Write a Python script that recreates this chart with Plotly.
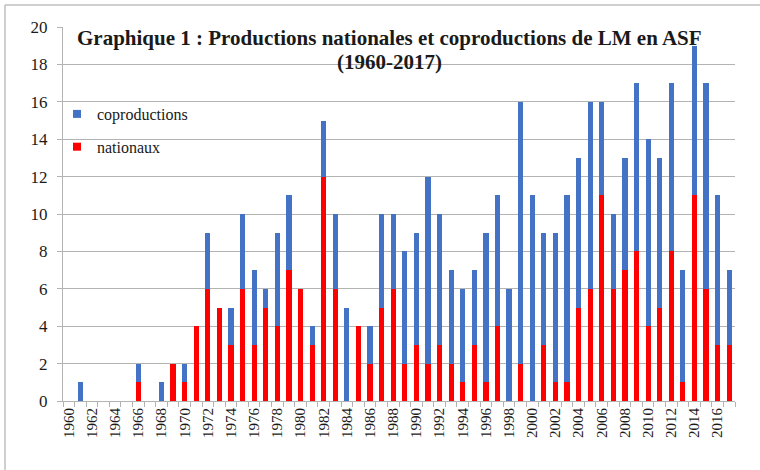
import plotly.graph_objects as go

years = list(range(1960, 2018))
totals = [0, 1, 0, 0, 0, 0, 2, 0, 1, 2, 2, 4, 9, 5, 5, 10, 7, 6, 9, 11,
          6, 4, 15, 10, 5, 4, 4, 10, 10, 8, 9, 12, 10, 7, 6, 7, 9, 11, 6, 16,
          11, 9, 9, 11, 13, 16, 16, 10, 13, 17, 14, 13, 17, 7, 19, 17, 11, 7]
nationaux = [0, 0, 0, 0, 0, 0, 1, 0, 0, 2, 1, 4, 6, 5, 3, 6, 3, 5, 4, 7,
             6, 3, 12, 6, 0, 4, 2, 5, 6, 2, 3, 2, 3, 2, 1, 3, 1, 4, 0, 2,
             0, 3, 1, 1, 5, 6, 11, 6, 7, 8, 4, 5, 8, 1, 11, 6, 3, 3]
coproductions = [t - n for t, n in zip(totals, nationaux)]
tick_years = list(range(1960, 2017, 2))
y_ticks = list(range(0, 21, 2))
title_lines = ["Graphique 1 : Productions nationales et coproductions de LM en ASF",
               "(1960-2017)"]

BLUE = "#4472C4"
RED = "#FF0000"
GRID = "#B3B3B3"
TXT = "#1a1a1a"
FONT = "'Liberation Serif', 'Times New Roman', 'DejaVu Serif', serif"

W, H = 760, 470
L, R, T, B = 63, 25, 27, 69
pw, ph = W - L - R, H - T - B

fig = go.Figure()
fig.add_trace(go.Bar(x=years, y=nationaux, name="nationaux", marker_color=RED,
                     marker_line_width=0, legendgroup="nat", showlegend=False))
fig.add_trace(go.Bar(x=years, y=coproductions, name="coproductions", marker_color=BLUE,
                     marker_line_width=0, legendgroup="co", showlegend=False))
# legend entries
fig.add_trace(go.Scatter(x=[None], y=[None], mode="markers", name="coproductions",
                         marker=dict(symbol="square", size=8, color=BLUE),
                         legendgroup="co", legendrank=1))
fig.add_trace(go.Scatter(x=[None], y=[None], mode="markers", name="nationaux",
                         marker=dict(symbol="square", size=8, color=RED),
                         legendgroup="nat", legendrank=2))

def px_x(p):
    return (p - L) / pw

def px_y(p):
    return (H - B - p) / ph

fig.update_layout(
    width=W, height=H,
    margin=dict(l=L, r=R, t=T, b=B),
    paper_bgcolor="white", plot_bgcolor="white",
    barmode="stack", bargap=0.55,
    font=dict(family=FONT, color=TXT),
    legend=dict(x=px_x(57), y=px_y(97), xanchor="left", yanchor="top",
                bgcolor="rgba(0,0,0,0)", font=dict(size=16, family=FONT, color=TXT),
                tracegroupgap=9, traceorder="grouped"),
    xaxis=dict(range=[1959.5, 2017.5], tickmode="array", tickvals=tick_years,
               ticktext=[str(y) for y in tick_years], tickangle=-90,
               tickfont=dict(size=15, family=FONT, color=TXT),
               showgrid=False, showline=True, linecolor=GRID, linewidth=1,
               ticks="", zeroline=False,
               minor=dict(ticks="outside", tick0=1959.5, dtick=1, ticklen=5,
                          tickcolor=GRID, showgrid=False)),
    yaxis=dict(range=[0, 20], tickvals=y_ticks, showgrid=True, gridcolor=GRID,
               gridwidth=1, showline=True, linecolor=GRID, linewidth=1,
               ticks="outside", ticklen=5, tickcolor=GRID, zeroline=False,
               tickfont=dict(size=17, family=FONT, color=TXT), ticklabelstandoff=6),
    annotations=[
        dict(text="<b>%s</b>" % title_lines[0], xref="paper", yref="paper",
             x=px_x(389), y=px_y(38), xanchor="center", yanchor="middle",
             showarrow=False, font=dict(size=21, family=FONT, color=TXT)),
        dict(text="<b>%s</b>" % title_lines[1], xref="paper", yref="paper",
             x=px_x(389), y=px_y(62), xanchor="center", yanchor="middle",
             showarrow=False, font=dict(size=21, family=FONT, color=TXT)),
    ],
    shapes=[
        dict(type="line", xref="paper", yref="paper", x0=px_x(5), x1=px_x(760), y0=px_y(5), y1=px_y(5),
             line=dict(color="#BFBFBF", width=1.5)),
        dict(type="line", xref="paper", yref="paper", x0=px_x(5), x1=px_x(5), y0=px_y(5), y1=px_y(470),
             line=dict(color="#BFBFBF", width=1.5)),
    ],
)

fig.write_html("out.html", config={"displayModeBar": False},
               post_script="document.body.style.margin='0';document.body.style.overflow='hidden';")
